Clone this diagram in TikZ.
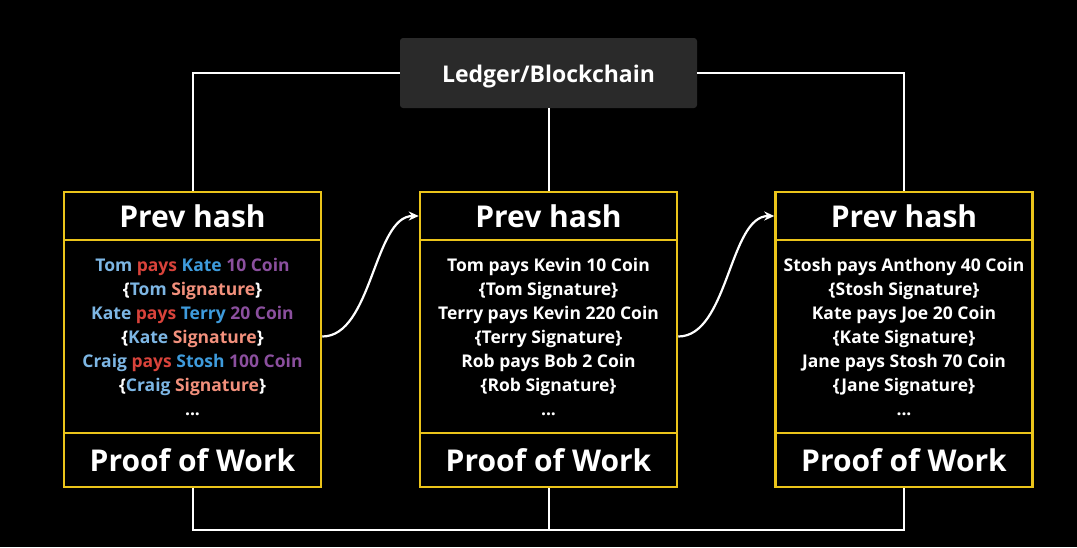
\documentclass[tikz,border=0pt]{standalone}
\usepackage{fontspec}
\setmainfont{Open Sans}
\usetikzlibrary{arrows.meta}
\definecolor{blockline}{HTML}{EBC41A}
\definecolor{ledgerfill}{HTML}{2A2A2A}
\definecolor{payer}{HTML}{7DB6E4}
\definecolor{payee}{HTML}{3E9BDC}
\definecolor{payverb}{HTML}{D9433B}
\definecolor{amount}{HTML}{8B4F9E}
\definecolor{signame}{HTML}{F2907C}
\newcommand{\txline}[4]{\textcolor{payer}{#1} \textcolor{payverb}{pays} \textcolor{payee}{#2} \textcolor{amount}{#3 Coin}\\
  \{\textcolor{payer}{#1} \textcolor{signame}{Signature}\}#4}

\begin{document}
\begin{tikzpicture}[x=1pt,y=-1pt,
    hashbox/.style={draw=blockline, line width=2.5pt, fill=black, text=white,
        minimum width=257pt, minimum height=48pt, inner sep=0pt,
        font=\fontsize{30}{32}\selectfont\bfseries},
    workbox/.style={hashbox, minimum height=54pt},
    txbox/.style={draw=blockline, line width=2.5pt, fill=black, text=white,
        minimum width=257pt, minimum height=193pt, inner sep=0pt, align=center,
        font=\fontsize{17.5}{24}\selectfont\bfseries},
    wire/.style={draw=white, line width=2pt},
    hop/.style={draw=white, line width=2.2pt, -{Stealth[length=10pt,width=9pt]}}]

    \fill[black] (0,0) rectangle (1077,547);
    \useasboundingbox (0,0) rectangle (1077,547);

    % ledger on top
    \node[fill=ledgerfill, rounded corners=3pt, minimum width=297pt, minimum height=70pt] (ledger) at (548.5,73) {};
    \node[text=white, font=\fontsize{23}{26}\selectfont\bfseries] (ledgername) at (548.5,77) {Ledger/Blockchain};

    % block one
    \node[txbox] (txA) at (192.5,336.5) {\txline{Tom}{Kate}{10}{}\\
        \txline{Kate}{Terry}{20}{}\\
        \txline{Craig}{Stosh}{100}{}\\...};
    \node[hashbox] (hashA) at (192.5,216) {Prev hash};
    \node[workbox] (powA) at (192.5,460) {Proof of Work};

    % block two
    \node[txbox] (txB) at (548.5,336.5) {Tom pays Kevin 10 Coin\\ \{Tom Signature\}\\
        Terry pays Kevin 220 Coin\\ \{Terry Signature\}\\
        Rob pays Bob 2 Coin\\ \{Rob Signature\}\\ ...};
    \node[hashbox] (hashB) at (548.5,216) {Prev hash};
    \node[workbox] (powB) at (548.5,460) {Proof of Work};

    % block three
    \node[txbox] (txC) at (904,336.5) {Stosh pays Anthony 40 Coin\\ \{Stosh Signature\}\\
        Kate pays Joe 20 Coin\\ \{Kate Signature\}\\
        Jane pays Stosh 70 Coin\\ \{Jane Signature\}\\ ...};
    \node[hashbox] (hashC) at (904,216) {Prev hash};
    \node[workbox] (powC) at (904,460) {Proof of Work};

    % ledger wiring
    \coordinate (botB) at (548.5,530);
    \draw[wire] (ledger.west) -| (hashA.north);
    \draw[wire] (ledger.east) -| (hashC.north);
    \draw[wire] (ledger.south) -- (hashB.north);
    \draw[wire] (powA.south) |- (botB) -| (powC.south);
    \draw[wire] (powB.south) -- (botB);

    % chain links
    \draw[hop] (txA.east) .. controls +(50,0) and +(-45,0) .. (hashB.west);
    \draw[hop] (txB.east) .. controls +(50,0) and +(-45,0) .. (hashC.west);
\end{tikzpicture}
\end{document}
